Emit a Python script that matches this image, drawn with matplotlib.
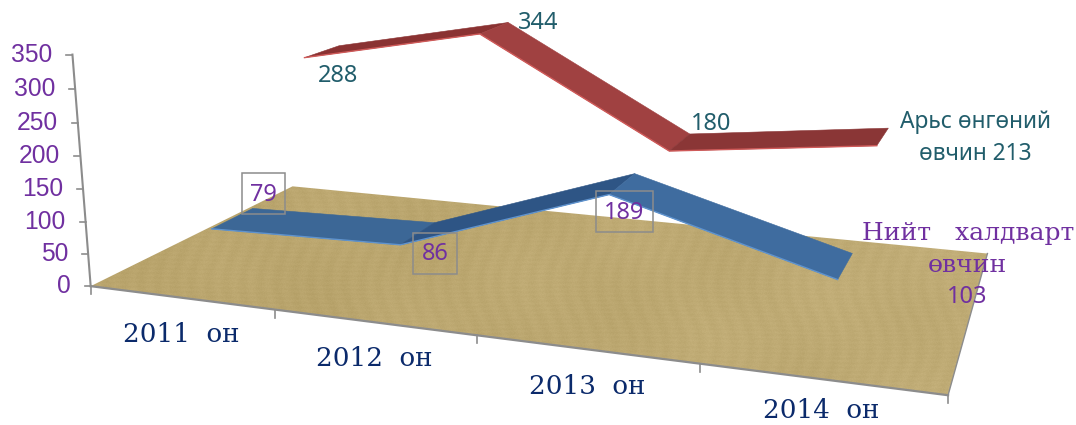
import numpy as np
import matplotlib
matplotlib.use('Agg')
import matplotlib.pyplot as plt
from matplotlib.patches import Polygon, Rectangle

categories = ['2011  он', '2012  он', '2013  он', '2014  он']
infection_total = [79, 86, 189, 103]
skin_disease = [288, 344, 180, 213]
value_ticks = [0, 50, 100, 150, 200, 250, 300, 350]

PURPLE = '#7030A0'
TEAL = '#215D6B'
NAVY = '#0B2A6B'
GRAY = '#8C8C8C'
SANS = ['Noto Sans', 'DejaVu Sans']
SERIF = ['DejaVu Serif']
TICK_FONT = ['Liberation Sans']

# perspective camera fitted to the picture: (category, value, depth) -> pixel
CAMERA = np.array([[171.77303, -0.0605, 273.29603, 90.67411],
                   [9.52182, -0.66796, -54.36925, 286.15533],
                   [-0.0449072, -0.0001161, 0.2440578, 1.0]])


def project(u, v, w):
    h = CAMERA @ np.array([u, v, w, 1.0])
    return h[0] / h[2], h[1] / h[2]


fig = plt.figure(figsize=(10.76, 4.25), dpi=100)
ax = fig.add_axes([0, 0, 1, 1])
ax.set_axis_off()

# floor with a paper-like texture
yy, xx = np.mgrid[0:425, 0:1076]
noise = np.modf(np.abs(np.sin(xx * 12.9898 + yy * 78.233)) * 43758.5453)[0] - 0.5
grain = (0.18 * np.sin(yy * 1.37 + np.sin(xx * 0.013) * 2) + 0.25 * np.sin(xx * 0.37 + np.sin(yy * 0.05) * 3)
         + 0.2 * np.sin((xx + 2 * yy) * 0.019) + 0.15 * np.sin(xx * 0.043 - yy * 0.03) + 0.6 * noise)
light = np.clip((xx - 91) / 900, 0, 1)[..., None]
tone = np.array([185, 164, 108]) * (1 - light) + np.array([192, 172, 118]) * light
texture = np.clip(tone + grain[..., None] * np.array([7, 7, 8]), 0, 255).astype(np.uint8)
floor_pts = [project(0, 0, 0), project(0, 0, 1), project(4, 0, 1), project(4, 0, 0)]
floor = Polygon(floor_pts, closed=True, facecolor='none', edgecolor='none')
ax.add_patch(floor)
img = ax.imshow(texture, extent=(0, 1076, 425, 0), aspect='auto', zorder=1, interpolation='bilinear')
img.set_clip_path(floor)
ax.set_xlim(0, 1076)
ax.set_ylim(425, 0)

# floor border and axes
ax.plot(*zip(project(4, 0, 0), project(4, 0, 1)), color=GRAY, lw=1.0, zorder=2)
ax.plot(*zip(project(0, 0, 0), project(4, 0, 0)), color=GRAY, lw=1.6, zorder=3)
ax.plot(*zip(project(0, value_ticks[0], 0), project(0, value_ticks[-1], 0)), color=GRAY, lw=1.5, zorder=3)
for v in value_ticks:
    x, y = project(0, v, 0)
    ax.plot([x - 6, x], [y, y], color=GRAY, lw=1.2, zorder=3)
    ax.text(x - 20, y, str(v), ha='right', va='center', color=PURPLE,
            family=TICK_FONT, fontsize=17.7, zorder=6)
for i in range(len(categories) + 1):
    x, y = project(i, 0, 0)
    ax.plot([x, x], [y, y + 8], color=GRAY, lw=1.2, zorder=3)


def ribbon(values, front, back, shades, edge, zorder):
    for i in range(len(values) - 1):
        a, b = i + 0.5, i + 1.5
        quad = [project(a, values[i], front), project(b, values[i + 1], front),
                project(b, values[i + 1], back), project(a, values[i], back)]
        ax.add_patch(Polygon(quad, closed=True, facecolor=shades[i], edgecolor=shades[i],
                             lw=0.4, zorder=zorder, joinstyle='round'))
    edge_pts = [project(i + 0.5, v, front) for i, v in enumerate(values)]
    ax.plot(*zip(*edge_pts), color=edge, lw=1.0, zorder=zorder + 0.1, solid_joinstyle='round')


ribbon(infection_total, 0.15, 0.345, ['#3C6796', '#2E5585', '#3F6C9F'], '#5F93CE', 4)
ribbon(skin_disease, 0.645, 0.845, ['#8A3232', '#A04141', '#8A3636'], '#CF5A59', 4)

# category labels
cat_offsets = [(181, 334), (374, 358), (587, 386), (821, 410)]
for label, (x, y) in zip(categories, cat_offsets):
    ax.text(x, y, label, ha='center', va='center', color=NAVY, family=SERIF, fontsize=18.8, zorder=6)

# data labels
red_label_pos = [(338, 76), (538, 23), (711, 124)]
for val, (x, y) in zip(skin_disease[:3], red_label_pos):
    ax.text(x, y, str(val), ha='center', va='center', color=TEAL, family=SANS, fontsize=17, zorder=7)
ax.text(975, 122, 'Арьс өнгөний', ha='center', va='center', color=TEAL, family=SANS, fontsize=16.4, zorder=7)
ax.text(975, 154, f'өвчин {skin_disease[3]}', ha='center', va='center', color=TEAL, family=SANS, fontsize=16.4, zorder=7)

box_pos = [(242, 173, 43, 41), (413, 233, 44, 41), (596, 191, 57, 41)]
for val, (x, y, w, h) in zip(infection_total[:3], box_pos):
    ax.add_patch(Rectangle((x, y), w, h, facecolor='none', edgecolor=GRAY, lw=1.1, zorder=7))
    ax.text(x + w / 2, y + h / 2 + 1, str(val), ha='center', va='center', color=PURPLE,
            family=SANS, fontsize=17, zorder=7)
ax.text(968, 233, 'Нийт   халдварт', ha='center', va='center', color=PURPLE, family=SERIF, fontsize=18, zorder=7)
ax.text(967, 266, 'өвчин', ha='center', va='center', color=PURPLE, family=SERIF, fontsize=18, zorder=7)
ax.text(967, 297, str(infection_total[3]), ha='center', va='center', color=PURPLE, family=SANS, fontsize=17, zorder=7)

fig.savefig('out.png', dpi=100)
